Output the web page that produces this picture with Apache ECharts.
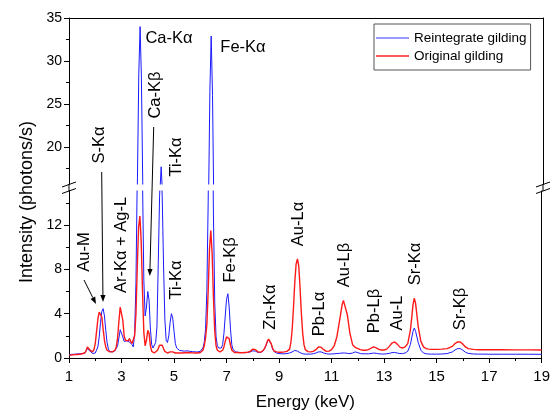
<!DOCTYPE html>
<html>
<head>
<meta charset="utf-8">
<script src="https://cdn.jsdelivr.net/npm/echarts@6/dist/echarts.min.js"></script>
<style>
  html, body { margin: 0; padding: 0; background: #fff; }
  #chart { width: 553px; height: 416px; }
</style>
</head>
<body>
<div id="chart"></div>
<script>
// XRF spectra of the two gilding samples (energy in keV, intensity in photons/s)
const energy = [
  1.0, 1.1, 1.2, 1.3, 1.4, 1.5, 1.6,
  1.65, 1.70, 1.75, 1.80, 1.85, 1.90, 1.95, 2.00, 2.05, 2.10, 2.15, 2.20, 2.25, 2.30, 2.35, 2.40,
  2.45, 2.50, 2.55, 2.60, 2.65, 2.70, 2.75, 2.80, 2.85, 2.90, 2.95, 3.00, 3.05, 3.10, 3.15, 3.20,
  3.25, 3.30, 3.35, 3.40, 3.45, 3.50, 3.55, 3.60, 3.65, 3.70, 3.75, 3.80, 3.85, 3.90, 3.95, 4.00,
  4.05, 4.10, 4.15, 4.20, 4.25, 4.30, 4.35, 4.40, 4.45, 4.50, 4.55, 4.60, 4.65, 4.70, 4.75, 4.80,
  4.85, 4.90, 4.95, 5.00, 5.05, 5.10, 5.15, 5.20,
  5.3, 5.4, 5.5, 5.6, 5.7, 5.8, 5.9, 6.0,
  6.05, 6.10, 6.15, 6.20, 6.25, 6.30, 6.35, 6.40, 6.45, 6.50, 6.55, 6.60, 6.65, 6.70, 6.75, 6.80,
  6.85, 6.90, 6.95, 7.00, 7.05, 7.10, 7.15, 7.20, 7.25, 7.30, 7.35,
  7.4, 7.5, 7.6, 7.7, 7.8, 7.9, 8.0, 8.05, 8.1, 8.2, 8.3, 8.4, 8.45, 8.5, 8.55, 8.6, 8.65, 8.7,
  8.75, 8.8, 8.9, 9.0, 9.1, 9.2, 9.3, 9.4, 9.45, 9.5, 9.55, 9.6, 9.65, 9.7, 9.75, 9.8, 9.85, 9.9,
  9.95, 10.0, 10.1, 10.2, 10.3, 10.4, 10.5, 10.55, 10.6, 10.7, 10.8, 10.9, 11.0, 11.1, 11.2, 11.3,
  11.4, 11.45, 11.5, 11.6, 11.7, 11.8, 11.9, 12.0, 12.1, 12.2, 12.3, 12.4, 12.5, 12.6, 12.7, 12.8,
  12.9, 13.0, 13.1, 13.2, 13.3, 13.4, 13.5, 13.6, 13.7, 13.8, 13.9, 14.0, 14.05, 14.1, 14.15, 14.2,
  14.3, 14.4, 14.5, 14.6, 14.7, 14.8, 15.0, 15.2, 15.4, 15.6, 15.7, 15.8, 15.85, 15.9, 16.0, 16.1,
  16.2, 16.4, 16.6, 16.8, 17.0, 17.5, 18.0, 18.5, 19.0
];

const reintegrate = [
  0.30, 0.32, 0.34, 0.36, 0.38, 0.40, 0.45,
  0.60, 0.85, 0.90, 0.62, 0.45, 0.40, 0.40, 0.45, 0.60, 1.00, 1.90, 3.20, 4.20, 4.45, 3.80, 2.50,
  1.40, 0.80, 0.60, 0.55, 0.55, 0.60, 0.65, 0.75, 1.10, 1.80, 2.55, 2.45, 1.90, 1.50, 1.45, 1.55,
  1.50, 1.45, 1.40, 1.20, 1.00, 2.30, 6.80, 16.5, 28.5, 34.0, 28.0, 16.0, 7.00, 3.80, 4.60, 6.00,
  5.20, 2.60, 1.20, 0.90, 0.95, 1.40, 2.80, 8.60, 14.6, 17.7, 14.6, 8.40, 3.50, 1.60, 1.40, 2.00,
  3.20, 4.00, 3.60, 2.40, 1.30, 0.90, 0.75, 0.70,
  0.65, 0.62, 0.65, 0.60, 0.58, 0.55, 0.55, 0.60,
  0.70, 0.90, 1.40, 2.60, 6.00, 14.0, 26.5, 32.9, 26.0, 13.0, 5.00, 1.90, 1.10, 0.90, 0.85, 0.90,
  1.20, 2.20, 3.80, 5.30, 5.80, 4.60, 2.60, 1.20, 0.75, 0.60, 0.55,
  0.52, 0.50, 0.50, 0.48, 0.50, 0.55, 0.65, 0.70, 0.62, 0.50, 0.50, 0.65, 0.85, 1.10, 1.45, 1.65, 1.60, 1.25,
  0.85, 0.60, 0.45, 0.40, 0.38, 0.38, 0.40, 0.45, 0.50, 0.55, 0.62, 0.68, 0.68, 0.62, 0.55, 0.48, 0.42, 0.38,
  0.36, 0.35, 0.35, 0.35, 0.38, 0.45, 0.55, 0.58, 0.55, 0.45, 0.38, 0.36, 0.36, 0.38, 0.40, 0.42,
  0.45, 0.46, 0.45, 0.42, 0.40, 0.45, 0.55, 0.48, 0.40, 0.38, 0.38, 0.38, 0.40, 0.45, 0.42, 0.38,
  0.36, 0.36, 0.38, 0.42, 0.48, 0.50, 0.45, 0.40, 0.40, 0.45, 0.60, 1.20, 1.80, 2.40, 2.70, 2.40,
  1.40, 0.70, 0.45, 0.38, 0.36, 0.35, 0.35, 0.36, 0.40, 0.55, 0.72, 0.85, 0.88, 0.85, 0.70, 0.52,
  0.42, 0.36, 0.35, 0.35, 0.34, 0.34, 0.34, 0.34, 0.33
];

const original = [
  0.26, 0.27, 0.30, 0.32, 0.34, 0.38, 0.45,
  0.65, 1.00, 1.05, 0.72, 0.55, 0.55, 0.75, 1.30, 2.40, 3.50, 4.15, 4.30, 3.70, 2.60, 1.60, 1.00,
  0.70, 0.60, 0.55, 0.55, 0.55, 0.60, 0.70, 1.00, 1.80, 3.30, 4.60, 4.75, 3.40, 2.00, 1.60, 1.70,
  1.55, 1.75, 1.50, 1.30, 1.40, 2.00, 4.00, 8.20, 11.8, 12.8, 10.5, 6.00, 2.30, 1.10, 1.60, 2.50,
  2.20, 1.10, 0.60, 0.45, 0.45, 0.50, 0.65, 0.85, 1.15, 1.25, 1.15, 0.85, 0.60, 0.50, 0.45, 0.50,
  0.55, 0.60, 0.55, 0.50, 0.45, 0.45, 0.45, 0.45,
  0.45, 0.48, 0.50, 0.48, 0.46, 0.45, 0.45, 0.50,
  0.55, 0.70, 1.10, 1.80, 3.00, 6.00, 9.80, 11.5, 9.50, 5.50, 2.40, 1.10, 0.70, 0.55, 0.55, 0.55,
  0.70, 1.00, 1.50, 1.90, 2.05, 1.75, 1.15, 0.70, 0.55, 0.50, 0.50,
  0.50, 0.48, 0.48, 0.50, 0.52, 0.60, 0.80, 0.88, 0.75, 0.55, 0.52, 0.70, 0.90, 1.15, 1.50, 1.70, 1.65, 1.30,
  0.90, 0.65, 0.55, 0.52, 0.52, 0.55, 0.60, 0.80, 1.40, 2.60, 4.60, 6.90, 8.50, 8.95, 8.30, 6.30, 4.00, 2.20,
  1.20, 0.75, 0.58, 0.55, 0.60, 0.75, 1.00, 1.05, 0.98, 0.75, 0.60, 0.62, 0.75, 1.10, 1.90, 3.30,
  4.80, 5.20, 5.10, 3.90, 2.20, 1.20, 0.95, 0.85, 0.75, 0.70, 0.70, 0.75, 0.88, 1.00, 0.92, 0.78,
  0.72, 0.72, 0.80, 1.05, 1.35, 1.45, 1.25, 0.98, 0.90, 1.00, 1.30, 2.50, 3.60, 4.80, 5.40, 4.90,
  2.80, 1.50, 1.00, 0.85, 0.80, 0.78, 0.78, 0.80, 0.85, 1.05, 1.30, 1.45, 1.50, 1.45, 1.25, 1.00,
  0.85, 0.78, 0.75, 0.75, 0.74, 0.74, 0.73, 0.73, 0.72
];

// Broken intensity axis: upper panel above the break, lower panel below it
const upperTicks = [20, 25, 30, 35];
const upperMinorTicks = [17.5, 22.5, 27.5, 32.5];
const lowerTicks = [0, 4, 8, 12];
const lowerMinorTicks = [2, 6, 10, 14];

// Line identifications: [text, centre x, centre y, vertical?]
const peakLabels = [
  ['Ca-K\u03b1', 169, 38, false],
  ['Fe-K\u03b1', 243, 47, false],
  ['S-K\u03b1', 99.5, 145, true],
  ['Ca-K\u03b2', 155.5, 95, true],
  ['Ti-K\u03b1', 176, 157, true],
  ['Au-M', 84, 252, true],
  ['Ar-K\u03b1 + Ag-L', 121.5, 245, true],
  ['Ti-K\u03b1', 176, 280, true],
  ['Fe-K\u03b2', 230, 260, true],
  ['Zn-K\u03b1', 270, 307, true],
  ['Au-L\u03b1', 298, 224, true],
  ['Pb-L\u03b1', 319, 314, true],
  ['Au-L\u03b2', 344, 265, true],
  ['Pb-L\u03b2', 374, 311, true],
  ['Au-L', 397, 313, true],
  ['Sr-K\u03b1', 415.5, 264, true],
  ['Sr-K\u03b2', 460.5, 309, true]
];

// Pointer arrows: [x1, y1, x2 (tip), y2 (tip)]
const pointers = [
  [84, 280, 96, 304],
  [101.7, 172, 103, 302],
  [153.7, 127, 149.8, 276]
];

const FONT = '"Liberation Sans", Arial, Helvetica, sans-serif';
const BLUE = '#1a1aff';
const RED = '#ff1a1a';

const blueData = energy.map((e, i) => [e, reintegrate[i]]);
const redData = energy.map((e, i) => [e, original[i]]);

const chart = echarts.init(document.getElementById('chart'), null, { renderer: 'canvas' });

const axisColor = { color: '#000', width: 1 };

function leftAxis(grid, min, max, major, minor) {
  return [
    {
      type: 'value', gridIndex: grid, min: min, max: max, position: 'left',
      axisLine: { show: true, onZero: false, lineStyle: axisColor },
      axisTick: { show: true, length: 5, customValues: major, lineStyle: axisColor },
      axisLabel: { show: true, customValues: major, fontSize: 14, fontFamily: FONT, color: '#000', margin: 7 },
      splitLine: { show: false }
    },
    {
      type: 'value', gridIndex: grid, min: min, max: max, position: 'left',
      axisLine: { show: false },
      axisTick: { show: true, length: 3, customValues: minor, lineStyle: axisColor },
      axisLabel: { show: false },
      splitLine: { show: false }
    },
    {
      type: 'value', gridIndex: grid, min: min, max: max, position: 'right',
      axisLine: { show: true, onZero: false, lineStyle: axisColor },
      axisTick: { show: false },
      axisLabel: { show: false },
      splitLine: { show: false }
    }
  ];
}

const graphics = [];

// axis line through the break and the break marks
[69, 543].forEach(function (x) {
  graphics.push({ type: 'line', shape: { x1: x, y1: 184, x2: x, y2: 191 }, style: { stroke: '#000', lineWidth: 1 } });
  [184.5, 191].forEach(function (y) {
    graphics.push({ type: 'line', shape: { x1: x - 7, y1: y + 2.5, x2: x + 7, y2: y - 2.5 }, style: { stroke: '#000', lineWidth: 1 } });
  });
});

peakLabels.forEach(function (p) {
  graphics.push({
    type: 'text', x: p[1], y: p[2], rotation: p[3] ? Math.PI / 2 : 0,
    style: { text: p[0], x: 0, y: 0, align: 'center', verticalAlign: 'middle', font: '16.5px ' + FONT, fill: '#000' },
    z: 10
  });
});

pointers.forEach(function (a) {
  const dx = a[2] - a[0], dy = a[3] - a[1];
  const len = Math.sqrt(dx * dx + dy * dy);
  const ux = dx / len, uy = dy / len;
  const hl = 7, hw = 2.6;
  const bx = a[2] - ux * hl, by = a[3] - uy * hl;
  graphics.push({ type: 'line', shape: { x1: a[0], y1: a[1], x2: bx, y2: by }, style: { stroke: '#000', lineWidth: 1 }, z: 10 });
  graphics.push({
    type: 'polygon',
    shape: { points: [[a[2], a[3]], [bx - uy * hw, by + ux * hw], [bx + uy * hw, by - ux * hw]] },
    style: { fill: '#000' }, z: 10
  });
});

graphics.push({
  type: 'text', x: 27, y: 202, rotation: Math.PI / 2,
  style: { text: 'Intensity (photons/s)', x: 0, y: 0, align: 'center', verticalAlign: 'middle', font: '18px ' + FONT, fill: '#000' }
});

const option = {
  animation: false,
  backgroundColor: '#fff',
  grid: [
    { left: 69, right: 10, top: 18, height: 166 },
    { left: 69, right: 10, top: 191, height: 167 }
  ],
  xAxis: [
    {
      type: 'value', gridIndex: 0, min: 1, max: 19, position: 'top',
      axisLine: { show: true, onZero: false, lineStyle: axisColor },
      axisTick: { show: false }, axisLabel: { show: false }, splitLine: { show: false }
    },
    {
      type: 'value', gridIndex: 1, min: 1, max: 19, interval: 2, position: 'bottom',
      axisLine: { show: true, onZero: false, lineStyle: axisColor },
      axisTick: { show: true, length: 5, lineStyle: axisColor },
      minorTick: { show: true, splitNumber: 2, length: 3, lineStyle: axisColor },
      axisLabel: { fontSize: 15, fontFamily: FONT, color: '#000', margin: 11 },
      splitLine: { show: false },
      name: 'Energy (keV)', nameLocation: 'middle', nameGap: 36,
      nameTextStyle: { fontSize: 17, fontFamily: FONT, color: '#000' }
    }
  ],
  yAxis: leftAxis(0, 15.7, 35, upperTicks, upperMinorTicks)
    .concat(leftAxis(1, 0, 15.07, lowerTicks, lowerMinorTicks)),
  legend: {
    orient: 'vertical', left: 374, top: 24,
    padding: [7, 4, 7, 1],
    itemWidth: 33, itemHeight: 14, itemGap: 4,
    borderColor: '#555', borderWidth: 1,
    itemStyle: { opacity: 0 },
    textStyle: { fontSize: 13.5, fontFamily: FONT, color: '#000' },
    data: [
      { name: 'Reintegrate gilding', lineStyle: { width: 1, color: '#3333ff' } },
      { name: 'Original gilding', lineStyle: { width: 2, color: '#ff5a5a' } }
    ]
  },
  series: [
    { name: 'Reintegrate gilding', type: 'line', xAxisIndex: 0, yAxisIndex: 0, data: blueData, symbol: 'none',
      lineStyle: { color: BLUE, width: 1 }, itemStyle: { color: BLUE } },
    { name: 'Reintegrate gilding', type: 'line', xAxisIndex: 1, yAxisIndex: 3, data: blueData, symbol: 'none',
      lineStyle: { color: BLUE, width: 1 }, itemStyle: { color: BLUE } },
    { name: 'Original gilding', type: 'line', xAxisIndex: 0, yAxisIndex: 0, data: redData, symbol: 'none',
      lineStyle: { color: RED, width: 1.4 }, itemStyle: { color: RED } },
    { name: 'Original gilding', type: 'line', xAxisIndex: 1, yAxisIndex: 3, data: redData, symbol: 'none',
      lineStyle: { color: RED, width: 1.4 }, itemStyle: { color: RED } }
  ],
  graphic: graphics
};

chart.setOption(option);
</script>
</body>
</html>
